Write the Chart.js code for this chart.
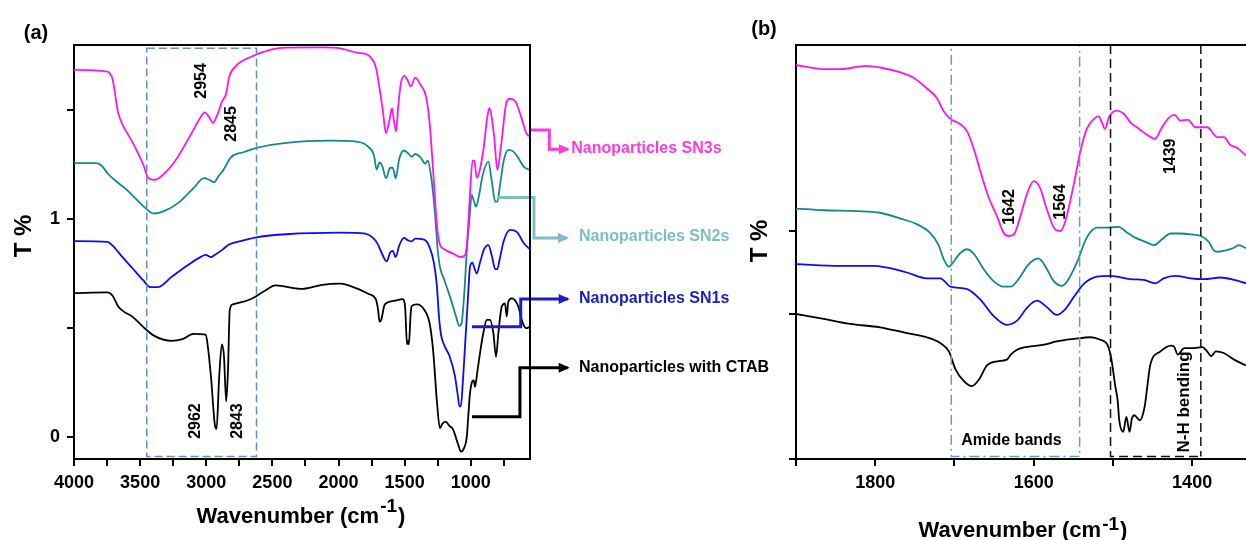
<!DOCTYPE html>
<html>
<head>
<meta charset="utf-8">
<script src="https://cdn.jsdelivr.net/npm/chart.js@4.4.1/dist/chart.umd.min.js"></script>
<style>
  html, body { margin: 0; padding: 0; background: #fff; overflow: hidden; }
  #wrap { position: relative; width: 1246px; height: 540px; }
  #chartA { position: absolute; left: 0; top: 0; }
  #chartB { position: absolute; left: 700px; top: 0; }
</style>
</head>
<body>
<div id="wrap">
  <canvas id="chartA" width="790" height="540"></canvas>
  <canvas id="chartB" width="546" height="540"></canvas>
</div>
<script>
// panel (a): [wavenumber, T]
const sn3sA = [[4000,1.684],[3748,1.676],[3708,1.640],[3667,1.489],[3626,1.425],[3559,1.354],[3477,1.251],[3437,1.187],[3396,1.179],[3342,1.195],[3234,1.267],[3125,1.378],[3044,1.465],[3012,1.489],[2976,1.465],[2950,1.441],[2909,1.489],[2882,1.537],[2849,1.576],[2828,1.648],[2773,1.703],[2665,1.743],[2503,1.778],[2394,1.786],[2123,1.787],[1987,1.783],[1853,1.762],[1799,1.759],[1758,1.743],[1717,1.695],[1690,1.600],[1663,1.489],[1642,1.394],[1614,1.457],[1595,1.508],[1582,1.457],[1564,1.402],[1550,1.505],[1528,1.624],[1501,1.656],[1480,1.640],[1453,1.608],[1420,1.648],[1380,1.616],[1338,1.560],[1311,1.441],[1284,1.219],[1257,0.981],[1235,0.886],[1203,0.862],[1122,0.838],[1075,0.825],[1040,0.838],[1027,0.902],[1008,1.092],[986,1.267],[973,1.267],[955,1.190],[905,1.314],[877,1.457],[860,1.508],[823,1.378],[799,1.225],[769,1.346],[729,1.537],[702,1.552],[661,1.537],[621,1.473],[580,1.394],[552,1.378]];
const sn2sA = [[4000,1.256],[3829,1.256],[3789,1.243],[3748,1.211],[3694,1.179],[3613,1.140],[3532,1.092],[3464,1.052],[3396,1.025],[3315,1.037],[3207,1.076],[3098,1.140],[3017,1.187],[2976,1.179],[2941,1.168],[2909,1.195],[2868,1.227],[2814,1.283],[2719,1.306],[2611,1.327],[2394,1.349],[2069,1.359],[1853,1.354],[1772,1.330],[1731,1.290],[1712,1.227],[1690,1.259],[1669,1.243],[1641,1.187],[1609,1.235],[1590,1.235],[1568,1.187],[1541,1.275],[1506,1.314],[1474,1.302],[1447,1.286],[1420,1.298],[1380,1.283],[1344,1.254],[1325,1.267],[1298,1.187],[1271,1.030],[1250,0.860],[1233,0.780],[1200,0.720],[1150,0.630],[1110,0.550],[1087,0.510],[1070,0.520],[1050,0.650],[1030,0.850],[1010,1.000],[993,1.110],[975,1.080],[960,1.056],[940,1.100],[910,1.200],[867,1.263],[840,1.170],[815,1.080],[799,1.080],[780,1.150],[750,1.270],[716,1.317],[680,1.310],[640,1.280],[600,1.240],[552,1.225]];
const sn1sA = [[4000,0.898],[3748,0.895],[3708,0.878],[3640,0.830],[3559,0.775],[3477,0.719],[3423,0.687],[3369,0.687],[3261,0.735],[3152,0.783],[3044,0.825],[3004,0.835],[2963,0.825],[2936,0.835],[2882,0.857],[2828,0.883],[2719,0.902],[2611,0.917],[2394,0.930],[1987,0.937],[1799,0.933],[1745,0.917],[1704,0.886],[1669,0.838],[1636,0.806],[1609,0.846],[1590,0.854],[1568,0.825],[1541,0.878],[1506,0.913],[1474,0.902],[1447,0.897],[1420,0.910],[1352,0.905],[1311,0.870],[1279,0.800],[1257,0.700],[1240,0.550],[1225,0.470],[1200,0.420],[1160,0.370],[1120,0.280],[1100,0.200],[1085,0.140],[1075,0.140],[1060,0.250],[1040,0.450],[1020,0.650],[1006,0.780],[988,0.800],[970,0.770],[955,0.750],[930,0.800],[900,0.860],[867,0.880],[840,0.830],[815,0.770],[799,0.770],[780,0.820],[750,0.900],[703,0.950],[650,0.940],[600,0.890],[552,0.860]];
const ctabA = [[4000,0.660],[3748,0.663],[3708,0.648],[3667,0.600],[3626,0.576],[3559,0.552],[3477,0.505],[3396,0.465],[3261,0.441],[3180,0.449],[3098,0.473],[3004,0.470],[2990,0.425],[2963,0.267],[2936,0.060],[2922,0.037],[2903,0.267],[2882,0.425],[2866,0.370],[2849,0.163],[2836,0.300],[2822,0.584],[2800,0.608],[2665,0.632],[2557,0.671],[2476,0.695],[2286,0.679],[2123,0.698],[1987,0.703],[1853,0.679],[1772,0.656],[1718,0.632],[1700,0.580],[1690,0.529],[1677,0.537],[1650,0.608],[1582,0.624],[1514,0.632],[1495,0.584],[1482,0.425],[1475,0.440],[1468,0.425],[1455,0.560],[1447,0.600],[1406,0.608],[1352,0.584],[1311,0.521],[1284,0.394],[1257,0.171],[1233,0.040],[1215,0.060],[1190,0.070],[1160,0.050],[1136,0.037],[1095,-0.035],[1074,-0.067],[1050,-0.050],[1030,0.000],[1019,0.093],[1006,0.200],[993,0.248],[977,0.260],[968,0.230],[950,0.300],[930,0.385],[905,0.477],[879,0.537],[854,0.537],[829,0.477],[809,0.368],[791,0.477],[766,0.598],[741,0.613],[728,0.552],[716,0.620],[690,0.636],[640,0.598],[615,0.537],[582,0.499],[552,0.505]];

// panel (b): [wavenumber, T] (arbitrary offset units)
const sn3sB = [[1900,4.00],[1865,3.95],[1844,3.95],[1811,3.99],[1794,3.97],[1768,3.91],[1752,3.85],[1735,3.72],[1722,3.60],[1714,3.45],[1705,3.35],[1693,3.29],[1684,3.20],[1676,3.00],[1667,2.71],[1657,2.41],[1646,2.17],[1638,1.98],[1632,1.94],[1625,1.96],[1617,2.17],[1608,2.46],[1600,2.60],[1592,2.52],[1583,2.25],[1573,2.02],[1566,2.00],[1560,2.12],[1549,2.58],[1541,2.96],[1533,3.23],[1524,3.35],[1518,3.38],[1514,3.31],[1510,3.23],[1505,3.37],[1495,3.45],[1486,3.41],[1478,3.31],[1467,3.23],[1457,3.16],[1447,3.11],[1438,3.25],[1429,3.37],[1422,3.40],[1415,3.33],[1405,3.34],[1396,3.25],[1381,3.25],[1368,3.13],[1360,3.13],[1352,3.04],[1343,3.00],[1332,2.91]];
const sn2sB = [[1900,2.27],[1865,2.25],[1823,2.24],[1794,2.22],[1768,2.15],[1747,2.08],[1731,1.98],[1720,1.83],[1714,1.67],[1707,1.57],[1701,1.63],[1693,1.73],[1684,1.78],[1676,1.73],[1663,1.54],[1651,1.40],[1638,1.33],[1629,1.33],[1619,1.42],[1608,1.58],[1600,1.65],[1594,1.67],[1585,1.57],[1575,1.40],[1564,1.34],[1556,1.42],[1545,1.63],[1533,1.92],[1520,2.04],[1507,2.04],[1493,2.05],[1482,1.98],[1472,1.92],[1459,1.87],[1448,1.83],[1438,1.90],[1427,1.97],[1415,1.97],[1402,1.96],[1389,1.94],[1379,1.87],[1373,1.77],[1368,1.75],[1356,1.77],[1349,1.79],[1341,1.83],[1332,1.79]];
const sn1sB = [[1900,1.60],[1844,1.58],[1802,1.58],[1760,1.50],[1735,1.43],[1718,1.43],[1705,1.33],[1684,1.30],[1667,1.17],[1651,0.98],[1634,0.87],[1621,0.92],[1608,1.08],[1596,1.16],[1583,1.08],[1571,0.99],[1560,1.06],[1549,1.21],[1537,1.36],[1520,1.45],[1503,1.46],[1478,1.42],[1461,1.41],[1446,1.37],[1436,1.43],[1421,1.46],[1402,1.43],[1385,1.42],[1364,1.44],[1347,1.41],[1332,1.37]];
const ctabB = [[1900,1.00],[1865,0.94],[1832,0.88],[1794,0.84],[1760,0.77],[1735,0.72],[1718,0.65],[1707,0.55],[1699,0.34],[1688,0.19],[1678,0.13],[1669,0.21],[1659,0.38],[1646,0.43],[1634,0.45],[1629,0.51],[1621,0.57],[1604,0.61],[1587,0.63],[1571,0.67],[1549,0.70],[1528,0.72],[1516,0.69],[1507,0.63],[1502,0.46],[1497,0.13],[1494,-0.04],[1492,-0.28],[1487,-0.42],[1483,-0.24],[1479,-0.42],[1476,-0.26],[1473,-0.22],[1466,-0.28],[1460,-0.12],[1456,0.17],[1453,0.38],[1440,0.55],[1427,0.62],[1423,0.61],[1418,0.51],[1410,0.59],[1398,0.59],[1387,0.60],[1381,0.55],[1376,0.49],[1370,0.55],[1360,0.53],[1347,0.45],[1332,0.38]];

const seriesNames = ['Nanoparticles SN3s', 'Nanoparticles SN2s', 'Nanoparticles SN1s', 'Nanoparticles with CTAB'];
const seriesColors = ['#ff14f0', '#138a88', '#0a0aff', '#000000'];
const legendColors = ['#ff3ad6', '#7dbdc3', '#1c1cc8', '#000000'];

// tick positions and the ones that carry a label
const xTicksA = [4000, 3750, 3500, 3250, 3000, 2750, 2500, 2250, 2000, 1750, 1500, 1250, 1000, 750];
const xLabelsA = [4000, 3500, 3000, 2500, 2000, 1500, 1000];
const yTicksA = [0, 0.5, 1, 1.5];
const yLabelsA = [0, 1];
const xTicksB = [1900, 1800, 1700, 1600, 1500, 1400];
const xLabelsB = [1800, 1600, 1400];
const yTicksB = [-0.747, 1, 2];
const peakLabelsA = ['2954', '2845', '2962', '2843'];
const peakLabelsB = ['1642', '1564', '1439'];

const FONT = '"Liberation Sans", Arial, sans-serif';
Chart.defaults.font.family = FONT;

function toPoints(pairs) {
    return pairs.map(p => ({ x: p[0], y: p[1] }));
}

function makeDatasets(list) {
    return list.map((pairs, i) => ({
        label: seriesNames[i],
        data: toPoints(pairs),
        borderColor: seriesColors[i],
        borderWidth: 1.8,
        pointRadius: 0,
        fill: false,
        cubicInterpolationMode: 'monotone'
    }));
}

function fixedTicks(values) {
    return function(scale) {
        scale.ticks = values.map(v => ({ value: v }));
    };
}

function axisX(min, max, ticks, labels) {
    return {
        type: 'linear', min: min, max: max, reverse: true,
        afterBuildTicks: fixedTicks(ticks),
        afterFit: function(scale) { scale.height = 81; },
        border: { display: true, color: '#000', width: 2 },
        grid: { drawOnChartArea: false, drawTicks: true, tickLength: 7, color: '#000', lineWidth: 2 },
        ticks: {
            autoSkip: false, maxRotation: 0, padding: 6,
            color: '#000', font: { size: 18, weight: 'bold' },
            callback: function(value) { return labels.includes(value) ? String(value) : ''; }
        }
    };
}

function axisY(min, max, ticks, labels, width) {
    return {
        type: 'linear', min: min, max: max,
        afterBuildTicks: fixedTicks(ticks),
        afterFit: function(scale) { scale.width = width; },
        border: { display: true, color: '#000', width: 2 },
        grid: { drawOnChartArea: false, drawTicks: true, tickLength: 7, color: '#000', lineWidth: 2 },
        ticks: {
            autoSkip: false, padding: 7,
            color: '#000', font: { size: 18, weight: 'bold' },
            callback: function(value) { return labels.includes(value) ? String(value) : ''; }
        }
    };
}

function drawText(ctx, text, x, y, font, color, align) {
    ctx.font = font;
    ctx.fillStyle = color || '#000';
    ctx.textAlign = align || 'center';
    ctx.textBaseline = 'middle';
    ctx.fillText(text, x, y);
}

function rotatedText(ctx, text, cx, cy, font, color) {
    ctx.save();
    ctx.translate(cx, cy);
    ctx.rotate(-Math.PI / 2);
    drawText(ctx, text, 0, 0, font, color);
    ctx.restore();
}

function drawXTitle(ctx, cx, baseline, raise) {
    const main = 'bold 22px ' + FONT, sup = 'bold 19px ' + FONT;
    ctx.font = main;
    const w1 = ctx.measureText('Wavenumber (cm').width;
    const w3 = ctx.measureText(')').width;
    ctx.font = sup;
    const w2 = ctx.measureText('-1').width;
    const x0 = cx - (w1 + w2 + w3) / 2;
    ctx.fillStyle = '#000';
    ctx.textAlign = 'left';
    ctx.textBaseline = 'alphabetic';
    ctx.font = main;
    ctx.fillText('Wavenumber (cm', x0, baseline);
    ctx.font = sup;
    ctx.fillText('-1', x0 + w1 + 1, baseline - raise);
    ctx.font = main;
    ctx.fillText(')', x0 + w1 + w2 + 2, baseline);
}

function drawConnector(ctx, pts, color) {
    ctx.setLineDash([]);
    ctx.strokeStyle = color;
    ctx.fillStyle = color;
    ctx.lineWidth = 3;
    ctx.beginPath();
    pts.forEach((p, i) => i ? ctx.lineTo(p[0], p[1]) : ctx.moveTo(p[0], p[1]));
    ctx.stroke();
    const tip = pts[pts.length - 1];
    ctx.beginPath();
    ctx.moveTo(tip[0] + 2, tip[1]);
    ctx.lineTo(tip[0] - 9, tip[1] - 5);
    ctx.lineTo(tip[0] - 9, tip[1] + 5);
    ctx.closePath();
    ctx.fill();
}

function drawPanelA(chart) {
    const ctx = chart.ctx, area = chart.chartArea;
    const X = v => chart.scales.x.getPixelForValue(v);
    const Y = v => chart.scales.y.getPixelForValue(v);
    ctx.save();

    // dashed region round the C-H / O-H bands
    ctx.setLineDash([8, 4]);
    ctx.strokeStyle = '#6590bd';
    ctx.lineWidth = 1.5;
    ctx.strokeRect(X(3450), Y(1.783), X(2620) - X(3450), Y(-0.09) - Y(1.783));
    ctx.setLineDash([]);

    const peakPos = [[3032, 1.633], [2805, 1.436], [3077, 0.073], [2764, 0.073]];
    peakLabelsA.forEach((t, i) => {
        rotatedText(ctx, t, X(peakPos[i][0]), Y(peakPos[i][1]), 'bold 16px ' + FONT, '#000');
    });

    // legend connectors, built on the panel's own scales
    const links = [
        [[559, 1.408], [406, 1.408], [406, 1.320], [265, 1.320]],
        [[794, 1.098], [522, 1.098], [522, 0.913], [272, 0.913]],
        [[991, 0.506], [622, 0.506], [622, 0.633], [267, 0.633]],
        [[991, 0.093], [628, 0.093], [628, 0.317], [267, 0.317]]
    ];
    const textAt = [[240, 1.325], [181, 0.920], [181, 0.635], [181, 0.317]];
    links.forEach((path, i) => {
        drawConnector(ctx, path.map(p => [X(p[0]), Y(p[1])]), legendColors[i]);
        drawText(ctx, seriesNames[i], X(textAt[i][0]), Y(textAt[i][1]), 'bold 16px ' + FONT, legendColors[i], 'left');
    });

    // frame
    ctx.strokeStyle = '#000';
    ctx.lineWidth = 2;
    ctx.beginPath();
    ctx.moveTo(area.left, area.top);
    ctx.lineTo(area.right, area.top);
    ctx.lineTo(area.right, area.bottom);
    ctx.stroke();

    rotatedText(ctx, 'T %', area.left - 50, area.top + 191, 'bold 24px ' + FONT, '#000');
    drawXTitle(ctx, (area.left + area.right) / 2 - 2, 523, 11);
    drawText(ctx, '(a)', area.left - 38, 33, 'bold 20px ' + FONT, '#000');
    ctx.restore();
}

function drawPanelB(chart) {
    const ctx = chart.ctx, area = chart.chartArea;
    const X = v => chart.scales.x.getPixelForValue(v);
    const Y = v => chart.scales.y.getPixelForValue(v);
    ctx.save();

    // amide band window (dash-dot)
    ctx.setLineDash([10, 4, 2, 4]);
    ctx.strokeStyle = '#6b9bc7';
    ctx.lineWidth = 1.5;
    ctx.strokeRect(X(1704), area.top, X(1542) - X(1704), Y(-0.717) - area.top);

    // N-H bending window (dashed)
    ctx.setLineDash([9, 5]);
    ctx.strokeStyle = '#111';
    ctx.beginPath();
    ctx.moveTo(X(1503), area.top);
    ctx.lineTo(X(1503), Y(-0.717));
    ctx.lineTo(X(1389), Y(-0.717));
    ctx.moveTo(X(1389), area.top);
    ctx.lineTo(X(1389), Y(-0.717));
    ctx.stroke();
    ctx.setLineDash([]);

    const peakPos = [[1630, 2.29], [1566, 2.35], [1427, 2.90]];
    peakLabelsB.forEach((t, i) => {
        rotatedText(ctx, t, X(peakPos[i][0]), Y(peakPos[i][1]), 'bold 16px ' + FONT, '#000');
    });
    drawText(ctx, 'Amide bands', X(1628), Y(-0.52), 'bold 16px ' + FONT, '#000');
    rotatedText(ctx, 'N-H bending', X(1410), Y(-0.06), 'bold 17px ' + FONT, '#000');

    // top frame
    ctx.strokeStyle = '#000';
    ctx.lineWidth = 2;
    ctx.beginPath();
    ctx.moveTo(area.left, area.top);
    ctx.lineTo(area.right, area.top);
    ctx.stroke();

    rotatedText(ctx, 'T %', area.left - 36, area.top + 196, 'bold 24px ' + FONT, '#000');
    drawXTitle(ctx, (area.left + area.right) / 2 + 1, 537, 7);
    drawText(ctx, '(b)', area.left - 32, 29, 'bold 20px ' + FONT, '#000');
    ctx.restore();
}

function baseOptions(padding, xAxis, yAxis) {
    return {
        responsive: false,
        animation: false,
        devicePixelRatio: 1,
        layout: { padding: padding },
        plugins: { legend: { display: false }, tooltip: { enabled: false } },
        elements: { point: { radius: 0 } },
        scales: { x: xAxis, y: yAxis }
    };
}

document.addEventListener('DOMContentLoaded', function() {
    new Chart(document.getElementById('chartA'), {
        type: 'line',
        data: { datasets: makeDatasets([sn3sA, sn2sA, sn1sA, ctabA]) },
        options: baseOptions({ top: 45, right: 260, left: 0, bottom: 0 },
            axisX(552, 4000, xTicksA, xLabelsA),
            axisY(-0.101, 1.798, yTicksA, yLabelsA, 74)),
        plugins: [{ id: 'panelA', afterDraw: drawPanelA }]
    });

    new Chart(document.getElementById('chartB'), {
        type: 'line',
        data: { datasets: makeDatasets([sn3sB, sn2sB, sn1sB, ctabB]) },
        options: baseOptions({ top: 45, right: 0, left: 0, bottom: 0 },
            axisX(1332, 1900, xTicksB, xLabelsB),
            axisY(-0.747, 4.241, yTicksB, [], 96)),
        plugins: [{ id: 'panelB', afterDraw: drawPanelB }]
    });
});
</script>
</body>
</html>
